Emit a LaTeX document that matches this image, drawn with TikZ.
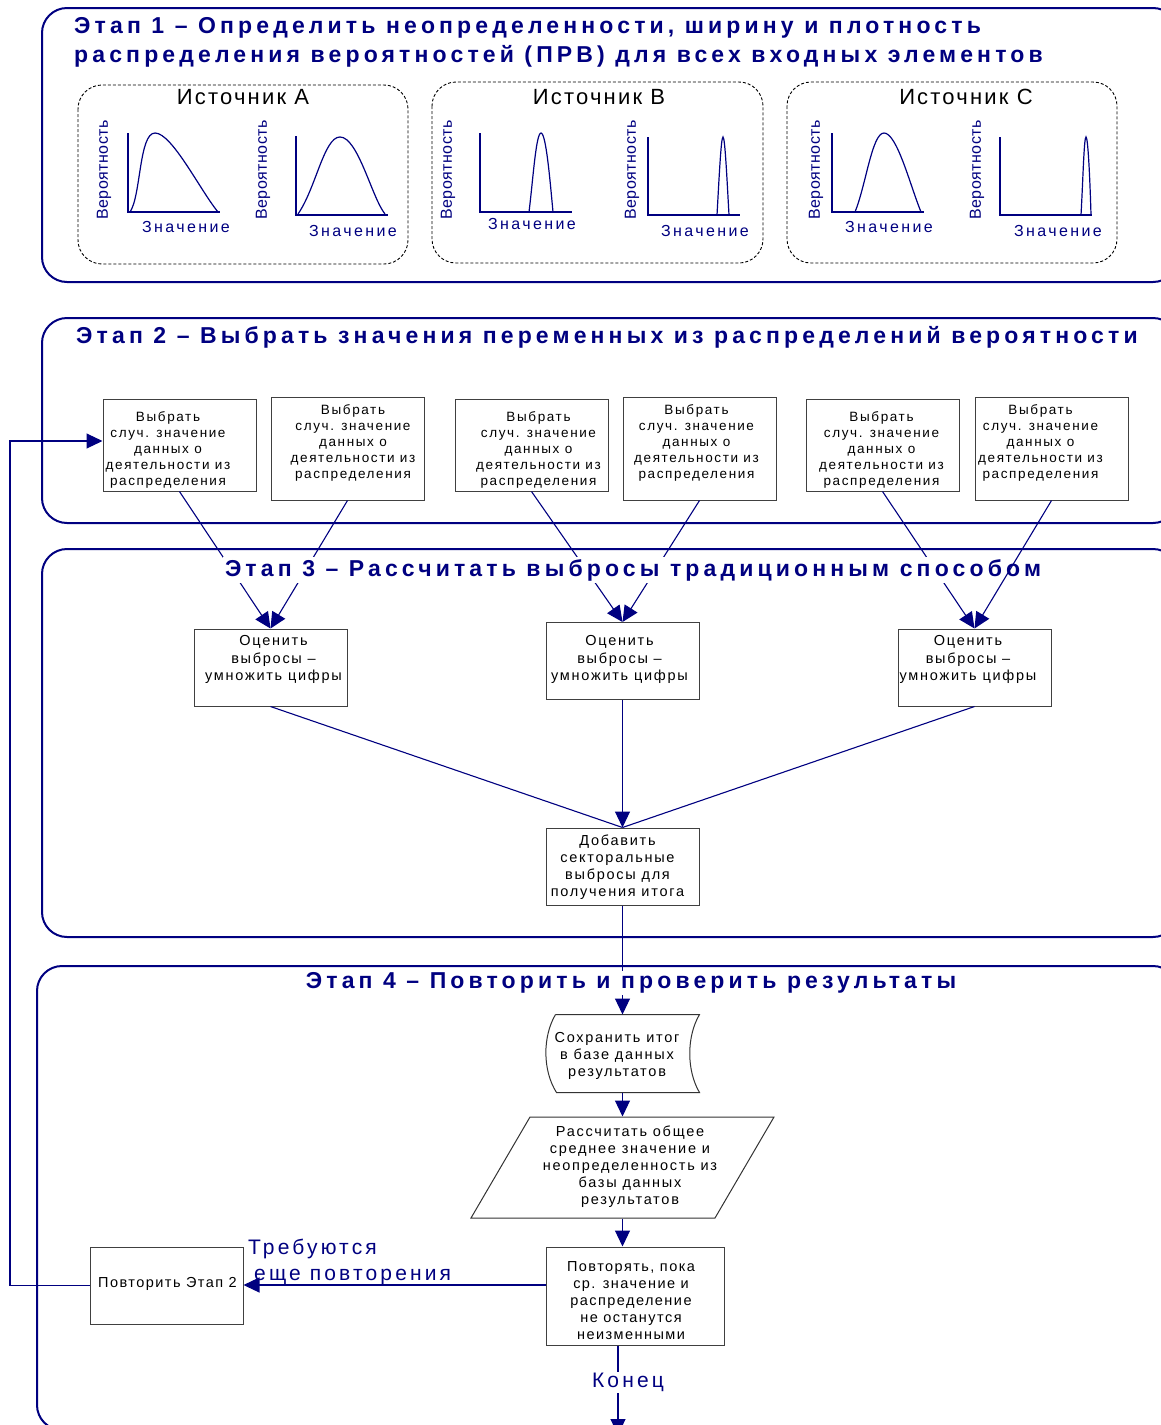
\documentclass[tikz,border=0pt]{standalone}
\usepackage{fontspec}
\setmainfont{Liberation Sans}
\newfontfamily\titlefam[LetterSpace=18]{Liberation Sans}
\newfontfamily\boxfam[LetterSpace=12]{Liberation Sans}
\newfontfamily\srcfam[LetterSpace=10]{Liberation Sans}
\newfontfamily\valfam[LetterSpace=15]{Liberation Sans}
\newfontfamily\probfam[LetterSpace=3]{Liberation Sans}
\usetikzlibrary{arrows.meta,calc}
\definecolor{navy}{RGB}{0,0,128}
\newcommand\picktxt{Выбрать\\случ. значение\\данных о\\деятельности из\\распределения}
\newcommand\esttxt{Оценить\\выбросы –\\умножить цифры}

\begin{document}
\begin{tikzpicture}[x=1pt,y=-1pt,
    stage/.style={draw=navy, line width=2pt, rounded corners=25pt},
    srcbox/.style={draw, dash pattern=on 3pt off 2pt, rounded corners=24pt, line width=0.9pt},
    srctitle/.style={font=\srcfam\fontsize{22}{22}\selectfont},
    title/.style={text=navy, font=\titlefam\bfseries\fontsize{23}{29}\selectfont, inner sep=2pt},
    plotline/.style={draw=navy, line width=1.2pt},
    vallbl/.style={text=navy, font=\valfam\fontsize{16}{16}\selectfont, inner sep=0pt},
    problbl/.style={text=navy, rotate=90, font=\probfam\fontsize{16}{16}\selectfont, inner sep=0pt},
    pick/.style={draw=black!75, line width=1pt, minimum width=153pt, inner sep=0pt},
    picktext/.style={align=center, inner sep=0pt, font=\boxfam\fontsize{13.5}{16}\selectfont},
    calctext/.style={align=center, inner sep=0pt, font=\boxfam\fontsize{14.5}{17}\selectfont},
    esttext/.style={align=center, inner sep=0pt, font=\boxfam\fontsize{14.5}{17.5}\selectfont},
    reptext/.style={align=center, inner sep=0pt, font=\srcfam\fontsize{14.5}{17}\selectfont},
    shapeline/.style={draw=black!80, line width=1pt},
    link/.style={draw=navy, line width=1.1pt},
    arrow/.style={link, -{Triangle[length=16pt,width=15pt]}},
    note/.style={text=navy, font=\valfam\fontsize{21}{26}\selectfont, inner sep=1pt}
]
\clip (0,0) rectangle (1161,1425);

% ---- stage frames ----
\draw[stage] (42,8) rectangle (1178,282);
\draw[stage] (42,318) rectangle (1178,523);
\draw[stage] (42,549) rectangle (1178,937);
\draw[stage] (37,966) rectangle (1178,1430);

% ---- stage 1: sources ----
\node[title, anchor=north west, align=left] (t1) at (72,15)
    {Этап 1 – Определить неопределенности, ширину и плотность\\
     распределения вероятностей (ПРВ) для всех входных элементов};

\draw[srcbox] (78,85) rectangle (408,264);
\draw[srcbox] (432,82) rectangle (763,263);
\draw[srcbox] (787,82) rectangle (1117,263);
\node[srctitle] (srcA) at (243,97) {Источник A};
\node[srctitle] (srcB) at (599,97) {Источник B};
\node[srctitle] (srcC) at (966,97) {Источник C};

% source A
\draw[plotline] (128,133) -- (128,212) -- (220,212);
\draw[plotline] (130,212) .. controls (141,196) and (139,133) .. (155,133)
    .. controls (172,133) and (200,190) .. (218,212);
\node[problbl] (pa1) at (104,170) {Вероятность};
\node[vallbl] (va1) at (186,227) {Значение};
\draw[plotline] (296,136) -- (296,215) -- (388,215);
\draw[plotline] (298,214) .. controls (316,188) and (324,137) .. (340,137)
    .. controls (358,137) and (372,198) .. (385,214);
\node[problbl] (pa2) at (263,170) {Вероятность};
\node[vallbl] (va2) at (353,231) {Значение};

% source B
\draw[plotline] (480,133) -- (480,212) -- (572,212);
\draw[plotline] (529,212) .. controls (533,180) and (536,133) .. (541,133)
    .. controls (546,133) and (550,180) .. (553,212);
\node[problbl] (pb1) at (448,170) {Вероятность};
\node[vallbl] (vb1) at (532,224) {Значение};
\draw[plotline] (648,137) -- (648,215) -- (740,215);
\draw[plotline] (717,215) .. controls (719,180) and (721,137) .. (723,137)
    .. controls (725,137) and (727,180) .. (729,215);
\node[problbl] (pb2) at (632,170) {Вероятность};
\node[vallbl] (vb2) at (705,231) {Значение};

% source C
\draw[plotline] (832,133) -- (832,212) -- (924,212);
\draw[plotline] (855,212) .. controls (866,185) and (872,133) .. (884,133)
    .. controls (897,133) and (910,185) .. (921,212);
\node[problbl] (pc1) at (816,170) {Вероятность};
\node[vallbl] (vc1) at (889,227) {Значение};
\draw[plotline] (1000,137) -- (1000,215) -- (1092,215);
\draw[plotline] (1081,215) .. controls (1083,180) and (1084,137) .. (1086,137)
    .. controls (1088,137) and (1090,180) .. (1091,215);
\node[problbl] (pc2) at (977,170) {Вероятность};
\node[vallbl] (vc2) at (1058,231) {Значение};

% ---- stage 2: sampling ----
\node[title, anchor=west] (t2) at (74,337)
    {Этап 2 – Выбрать значения переменных из распределений вероятности};

\node[pick, minimum height=92pt,
    label={[picktext, name=b1t, xshift=-11.5pt, yshift=-5pt]center:\picktxt}] (b1) at (179.5,445) {};
\node[pick, minimum height=103pt,
    label={[picktext, name=b2t, xshift=5.5pt, yshift=5.5pt]center:\picktxt}] (b2) at (347.5,448.5) {};
\node[pick, minimum height=92pt,
    label={[picktext, name=b3t, xshift=7pt, yshift=-5pt]center:\picktxt}] (b3) at (531.5,445) {};
\node[pick, minimum height=103pt,
    label={[picktext, name=b4t, xshift=-3pt, yshift=5.5pt]center:\picktxt}] (b4) at (699.5,448.5) {};
\node[pick, minimum height=92pt,
    label={[picktext, name=b5t, xshift=-1pt, yshift=-5pt]center:\picktxt}] (b5) at (882.5,445) {};
\node[pick, minimum height=103pt,
    label={[picktext, name=b6t, xshift=-11pt, yshift=5.5pt]center:\picktxt}] (b6) at (1051.5,448.5) {};

% ---- stage 3: estimate ----
\node[pick, minimum height=77pt,
    label={[esttext, name=e1t, xshift=3pt, yshift=8pt]center:\esttxt}] (e1) at (270.5,667.5) {};
\node[pick, minimum height=77pt,
    label={[esttext, name=e2t, xshift=-3pt, yshift=1.5pt]center:\esttxt}] (e2) at (622.5,661) {};
\node[pick, minimum height=77pt,
    label={[esttext, name=e3t, xshift=-6.5pt, yshift=8pt]center:\esttxt}] (e3) at (974.5,667.5) {};
\node[pick, minimum height=77pt,
    label={[calctext, name=sumt, xshift=-5pt, yshift=-1pt]center:{Добавить\\секторальные\\выбросы для\\получения итога}}]
    (sum) at (622.5,866.5) {};

\draw[arrow] (b1.south) -- (e1.north);
\draw[arrow] (b2.south) -- (e1.north);
\draw[arrow] (b3.south) -- (e2.north);
\draw[arrow] (b4.south) -- (e2.north);
\draw[arrow] (b5.south) -- (e3.north);

\draw[link] (e1.south) -- (sum.north);
\draw[arrow] (e2.south) -- (sum.north);
\draw[link] (e3.south) -- (sum.north);

% ---- stage 4: repeat ----
\node[pick, draw=none, minimum height=77pt,
    label={[calctext, name=storet, xshift=-5.5pt, yshift=-2.5pt]center:{Сохранить итог\\в базе данных\\результатов}}]
    (store) at (622.5,1053.5) {};
\draw[shapeline] ($(store.north west)+(10,0)$) -- (store.north east)
    .. controls ($(store.north east)+(-13,22)$) and ($(store.south east)+(-13,-22)$) .. (store.south east)
    -- ($(store.south west)+(11,0)$)
    .. controls ($(store.south west)+(-3,-22)$) and ($(store.north west)+(-3,22)$) .. ($(store.north west)+(10,0)$);

\node[pick, draw=none, minimum width=180pt, minimum height=101pt,
    label={[calctext, name=calct, xshift=7.5pt, yshift=0.5pt]center:{Рассчитать общее\\среднее значение и\\неопределенность из\\базы данных\\результатов}}]
    (calc) at (622.5,1167.5) {};
\draw[shapeline] (530,1117) -- (774,1117) -- (715,1218) -- (471,1218) -- cycle;

\node[pick, minimum width=178pt, minimum height=98pt,
    label={[reptext, name=rept, xshift=-4pt, yshift=-5pt]center:{Повторять, пока\\ср. значение и\\распределение\\не останутся\\неизменными}}]
    (rep) at (635,1296) {};
\node[pick, minimum height=77pt,
    label={[reptext, name=againt, xshift=1pt, yshift=2pt]center:{Повторить Этап 2}}]
    (again) at (166.5,1285.5) {};

\coordinate (repout) at ($(rep.west)+(0,-11)$);
\coordinate (fb) at (10,441);
\coordinate (fin) at (618,1435);

\draw[arrow] (sum.south) -- (store.north);
\draw[arrow] (store.south) -- (calc.north);
\draw[arrow] (calc.south) -- (calc.south |- rep.north);
\draw[arrow] (repout) -- (repout -| again.east);
\draw[arrow] (again.west) -| (fb) -- (fb -| b1.west);
\draw[arrow] (rep.south -| fin) -- node[note, fill=white, pos=0.41, xshift=10pt] (end) {Конец} (fin);

\node[note, anchor=north west, align=left] (more) at (247,1238)
    {Требуются\\\hspace*{6pt}еще повторения};

% ---- titles over the links ----
\node[title, fill=white] (t3) at (633,570)
    {Этап 3 – Рассчитать выбросы традиционным способом};
\node[title, fill=white] (t4) at (631,983)
    {Этап 4 – Повторить и проверить результаты};
\draw[arrow] (b6.south) -- (e3.north);

\end{tikzpicture}
\end{document}
